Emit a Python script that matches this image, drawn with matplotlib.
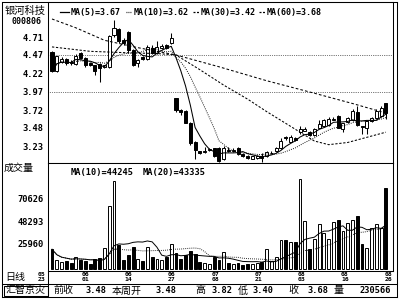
import numpy as np
import pandas as pd
import matplotlib
matplotlib.use('Agg')
import matplotlib.pyplot as plt
from matplotlib.lines import Line2D
from matplotlib.patches import Rectangle

plt.rcParams['font.family'] = ['DejaVu Sans Mono', 'Noto Sans CJK SC']

# 日K线数据 (开 高 低 收), 读自原图
opens = [4.51, 4.25, 4.38, 4.42, 4.38, 4.35, 4.50, 4.43, 4.36, 4.33,
         4.35, 4.30, 4.30, 4.74, 4.82, 4.68, 4.78, 4.54, 4.36, 4.44,
         4.42, 4.57, 4.50, 4.56, 4.60, 4.63, 3.88, 3.72, 3.71, 3.55,
         3.29, 3.16, 3.15, 3.18, 3.20, 3.20, 3.05, 3.18, 3.16, 3.21,
         3.12, 3.10, 3.06, 3.07, 3.09, 3.10, 3.13, 3.16, 3.20, 3.36,
         3.29, 3.34, 3.42, 3.44, 3.42, 3.38, 3.48, 3.50, 3.52, 3.59,
         3.64, 3.46, 3.56, 3.58, 3.70, 3.50, 3.48, 3.57, 3.61, 3.64,
         3.82]
highs = [4.52, 4.46, 4.44, 4.43, 4.40, 4.48, 4.51, 4.44, 4.38, 4.34,
         4.36, 4.34, 4.74, 4.95, 4.84, 4.70, 4.80, 4.55, 4.42, 4.46,
         4.60, 4.60, 4.66, 4.62, 4.62, 4.77, 3.89, 3.74, 3.72, 3.56,
         3.30, 3.17, 3.22, 3.21, 3.21, 3.22, 3.23, 3.22, 3.20, 3.22,
         3.14, 3.11, 3.10, 3.11, 3.14, 3.16, 3.16, 3.22, 3.34, 3.37,
         3.38, 3.36, 3.50, 3.49, 3.43, 3.47, 3.58, 3.60, 3.62, 3.63,
         3.66, 3.55, 3.62, 3.73, 3.78, 3.51, 3.58, 3.63, 3.73, 3.77,
         3.82]
lows = [4.24, 4.24, 4.36, 4.34, 4.33, 4.34, 4.42, 4.31, 4.32, 4.20,
        4.10, 4.29, 4.29, 4.72, 4.64, 4.60, 4.50, 4.32, 4.30, 4.40,
        4.40, 4.49, 4.49, 4.55, 4.55, 4.62, 3.70, 3.66, 3.54, 3.25,
        3.05, 3.12, 3.14, 3.16, 3.08, 3.01, 3.04, 3.15, 3.15, 3.11,
        3.08, 3.06, 3.05, 3.06, 3.02, 3.08, 3.12, 3.15, 3.19, 3.32,
        3.28, 3.30, 3.40, 3.43, 3.37, 3.37, 3.47, 3.49, 3.51, 3.58,
        3.47, 3.42, 3.55, 3.57, 3.51, 3.39, 3.40, 3.56, 3.60, 3.62,
        3.60]
closes = [4.25, 4.45, 4.42, 4.36, 4.36, 4.46, 4.43, 4.34, 4.34, 4.25,
          4.29, 4.33, 4.73, 4.84, 4.66, 4.64, 4.54, 4.33, 4.40, 4.41,
          4.58, 4.50, 4.58, 4.59, 4.57, 4.70, 3.72, 3.70, 3.55, 3.27,
          3.18, 3.14, 3.17, 3.18, 3.10, 3.03, 3.21, 3.17, 3.18, 3.12,
          3.10, 3.07, 3.09, 3.10, 3.07, 3.15, 3.14, 3.20, 3.30, 3.34,
          3.35, 3.32, 3.46, 3.46, 3.38, 3.46, 3.53, 3.58, 3.60, 3.60,
          3.48, 3.54, 3.61, 3.71, 3.52, 3.49, 3.57, 3.61, 3.71, 3.75,
          3.68]
volumes = [20000, 9000, 7000, 8000, 6000, 12000, 9000, 8000, 5000, 10000,
           11000, 21000, 64000, 89000, 24000, 9000, 14000, 22000, 10000, 8000,
           22000, 12000, 10000, 9000, 12000, 25000, 16000, 10000, 14000, 18000,
           15000, 7000, 6000, 5000, 12000, 9000, 17000, 6000, 5000, 6000,
           4000, 5000, 5000, 6000, 7000, 20000, 8000, 12000, 29000, 29000,
           27000, 27000, 91000, 48000, 20000, 30000, 45000, 36000, 30000, 47700,
           49500, 38000, 46000, 49000, 53900, 25000, 21000, 41000, 45500, 41000,
           82066]

# MA30 / MA60 读自原图 (窗口之前的数据看不到)
ma30_idx = [0, 8, 16, 22, 26, 31, 36, 41, 45, 49, 52, 55, 58, 62, 66, 70]
ma30_val = [4.58, 4.52, 4.50, 4.49, 4.47, 4.27, 4.06, 3.87, 3.70, 3.54,
            3.42, 3.30, 3.25, 3.28, 3.35, 3.42]
ma60_idx = [0, 5, 11, 18, 26, 35, 45, 55, 63, 70]
ma60_val = [4.96, 4.84, 4.67, 4.57, 4.47, 4.31, 4.12, 3.95, 3.81, 3.68]

price_ticks = [4.71, 4.47, 4.22, 3.97, 3.72, 3.48, 3.23]
price_grid = [4.47, 3.97]
vol_ticks = [70626, 48293, 25960]
date_month = ['05', '06', '06', '06', '07', '07', '08', '08', '08']
date_day = ['23', '01', '14', '27', '08', '21', '03', '16', '26']

price_legend = ['MA(5)=3.67', 'MA(10)=3.62', 'MA(30)=3.42', 'MA(60)=3.68']
vol_legend = ['MA(10)=44245', 'MA(20)=43335']
status_text = ['前收', '3.48', '本周开', '3.48', '高', '3.82',
               '低', '3.40', '收', '3.68', '量', '230566']

# ---- layout (pixels) ----
W, H = 400, 300
price_legend_x = [71, 134, 201, 267]
price_sym = [(60, 69, '-'), (126, 132, (0, (0.7, 0.9))), (193, 199, (0, (1.6, 1.2))), (259, 265, (0, (1.6, 1.2)))]
vol_legend_x = [71, 143]
status_x = [53, 86, 112, 155, 195, 212, 238, 253, 288, 307, 333, 360]
date_start, date_step = -2.1, 9.07

df = pd.DataFrame({'open': opens, 'high': highs, 'low': lows,
                   'close': closes, 'vol': volumes})
df['ma5'] = df['close'].rolling(5, min_periods=1).mean()
df['ma10'] = df['close'].rolling(10, min_periods=1).mean()
df['vma10'] = df['vol'].rolling(10, min_periods=1).mean()
df['vma20'] = df['vol'].rolling(20, min_periods=1).mean()
idx = np.arange(len(df))
up = df['close'] >= df['open']
fc = ['white' if u else 'black' for u in up]

fig = plt.figure(figsize=(4, 3), dpi=100)
fig.patch.set_facecolor('white')

def rect(x0, y0, x1, y1):
    return [x0 / W, 1 - y1 / H, (x1 - x0) / W, (y1 - y0) / H]

def fline(x0, y0, x1, y1, lw=0.75, ls='-'):
    fig.add_artist(Line2D([x0 / W, x1 / W], [1 - y0 / H, 1 - y1 / H],
                          transform=fig.transFigure, color='black', lw=lw, ls=ls))

def ftext(x, y, s, **kw):
    kw.setdefault('va', 'center')
    kw.setdefault('ha', 'left')
    fig.text(x / W, 1 - y / H, s, color='black', **kw)

px_per_unit = 73.5
ax = fig.add_axes(rect(48, 2, 393, 163))
axv = fig.add_axes(rect(48, 163, 393, 271))

x_px0, x_step = 52, 4.77
xl = ((48 - x_px0) / x_step, (393 - x_px0) / x_step)

# price panel
ax.vlines(idx, df['low'], df['high'], color='black', lw=0.75, zorder=2)
body = (df['close'] - df['open']).abs().clip(lower=0.008)
ax.bar(idx, body, bottom=np.minimum(df['open'], df['close']), width=0.64,
       color=fc, edgecolor='black', linewidth=0.7, zorder=3)
ax.plot(idx, df['ma5'], color='black', lw=0.75, zorder=4)
ax.plot(idx, df['ma10'], color='black', lw=0.75, ls=(0, (0.8, 1.3)), zorder=4)
ax.plot(ma30_idx, ma30_val, color='black', lw=0.75, ls=(0, (2.2, 1.6)), zorder=4)
ax.plot(ma60_idx, ma60_val, color='black', lw=0.75, ls=(0, (2.6, 2.0)), zorder=4)
for g in price_grid:
    ax.axhline(g, color='black', lw=0.6, ls=(0, (0.7, 1.5)), zorder=1)
ax.set_xlim(*xl)
ax.set_ylim(4.47 - 108 / px_per_unit, 4.47 + 53 / px_per_unit)
ax.set_xticks([])
ax.set_yticks(price_ticks)
ax.set_yticklabels([f'{v:.2f}' for v in price_ticks], fontsize=6.3, fontweight='bold')
ax.tick_params(axis='y', length=0, pad=3)

# volume panel
vpx = 1.03 / 1000
axv.bar(idx, df['vol'], width=0.6, color=fc, edgecolor='black', linewidth=0.7, zorder=3)
axv.plot(idx, df['vma10'], color='black', lw=0.7, zorder=4)
axv.plot(idx, df['vma20'], color='black', lw=0.7, ls=(0, (0.8, 1.3)), zorder=4)
axv.set_xlim(*xl)
axv.set_ylim(-2 / vpx, 110 / vpx)
axv.set_xticks([])
axv.set_yticks(vol_ticks)
axv.set_yticklabels([str(v) for v in vol_ticks], fontsize=6.3, fontweight='bold')
axv.tick_params(axis='y', length=0, pad=3)

for a in (ax, axv):
    for s in a.spines.values():
        s.set_linewidth(0.75)
        s.set_color('black')

# dates (two rows under the volume panel)
for k, (m, d) in enumerate(zip(date_month, date_day)):
    xk = date_start + date_step * k
    axv.text(xk, -3.0 / 108, m, transform=axv.get_xaxis_transform(),
             ha='center', va='center', fontsize=4.6, fontweight='bold', clip_on=False)
    axv.text(xk, -8.5 / 108, d, transform=axv.get_xaxis_transform(),
             ha='center', va='center', fontsize=4.6, fontweight='bold', clip_on=False)

# frame
fline(2, 2, 397, 2)
fline(2, 2, 2, 297)
fline(397, 2, 397, 297)
fline(2, 297, 397, 297)
fline(2, 284, 397, 284)
fline(48, 271, 48, 297)
fig.add_artist(Rectangle((4 / W, 1 - 296 / H), 44 / W, 10.5 / H, transform=fig.transFigure,
                         fill=False, edgecolor='black', lw=0.75))

# texts
cjk = ['Noto Sans CJK SC', 'DejaVu Sans']
ftext(5, 11, '银河科技', fontsize=7.4, family=cjk)
ftext(26, 22, '000806', fontsize=6.0, fontweight='bold', ha='center')
ftext(4, 168, '成交量', fontsize=7.2, family=cjk)
ftext(5, 277, '日线', fontsize=7.2, family=cjk)
ftext(26, 290.5, '汇智京灾', fontsize=7.2, family=cjk, ha='center')
for x0, x1, ls in price_sym:
    fline(x0, 12, x1, 12, lw=0.9, ls=ls)
for s, x in zip(price_legend, price_legend_x):
    ftext(x, 12, s, fontsize=6.0, fontweight='bold')
for s, x in zip(vol_legend, vol_legend_x):
    ftext(x, 172, s, fontsize=6.2, fontweight='bold')
for s, x in zip(status_text, status_x):
    if s[0].isdigit():
        ftext(x, 290.5, s, fontsize=6.2, fontweight='bold')
    else:
        ftext(x, 290.5, s, fontsize=7.2, family=cjk)

fig.savefig('out.png', dpi=100)
